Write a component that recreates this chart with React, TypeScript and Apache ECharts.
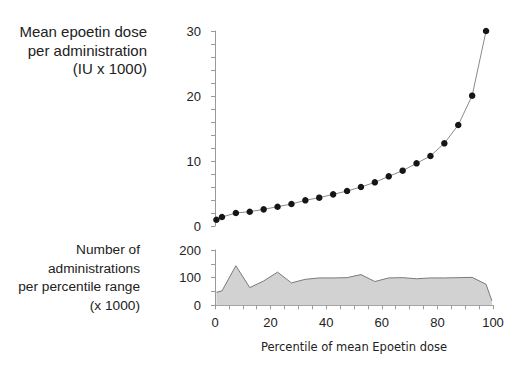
import React, { useEffect, useRef } from "react";
import * as echarts from "echarts";

const dosePercentiles = [0.5, 2.5, 7.5, 12.5, 17.5, 22.5, 27.5, 32.5, 37.5, 42.5, 47.5, 52.5, 57.5, 62.5, 67.5, 72.5, 77.5, 82.5, 87.5, 92.5, 97.5];
const meanDose = [0.97, 1.38, 2.0, 2.2, 2.56, 2.97, 3.38, 3.95, 4.36, 4.87, 5.38, 6.0, 6.72, 7.64, 8.51, 9.64, 10.77, 12.72, 15.54, 20.05, 30.0];

const adminPercentiles = [0.5, 2.5, 7.5, 12.5, 17.5, 22.5, 27.5, 32.5, 37.5, 42.5, 47.5, 52.5, 57.5, 62.5, 67.5, 72.5, 77.5, 82.5, 87.5, 92.5, 97.5, 99.6];
const administrations = [47, 52, 143, 64, 88, 120, 81, 94, 99, 99, 100, 111, 86, 99, 100, 96, 99, 99, 100, 101, 76, 16];

const xTicks = [0, 20, 40, 60, 80, 100];
const doseTicks = [0, 10, 20, 30];
const adminTicks = [0, 100, 200];

const topTitle = ["Mean epoetin dose", "per administration", "(IU x 1000)"];
const bottomTitle = ["Number of", "administrations", "per percentile range", "(x 1000)"];
const xTitle = "Percentile of mean Epoetin dose";

export default function App() {
  const ref = useRef<HTMLDivElement>(null);
  useEffect(() => {
    if (!ref.current) return;
    const chart = echarts.init(ref.current, null, { renderer: "svg" });
    const axisColor = "#9a9a9a";
    const labelStyle = { color: "#222", fontFamily: "Liberation Sans", fontSize: 13 };
    const option: any = {
      animation: false,
      backgroundColor: "#fff",
      grid: [
        { left: 215, width: 278, top: 31, height: 195 },
        { left: 215, width: 278, top: 250, height: 55.3 },
      ],
      xAxis: [
        { gridIndex: 0, type: "value", min: xTicks[0], max: xTicks[xTicks.length - 1], show: false },
        {
          gridIndex: 1,
          type: "value",
          min: xTicks[0],
          max: xTicks[xTicks.length - 1],
          interval: 20,
          axisLine: { show: true, lineStyle: { color: axisColor, width: 1 } },
          axisTick: { show: true, length: 4, lineStyle: { color: axisColor } },
          minorTick: { show: true, splitNumber: 4, length: 4, lineStyle: { color: axisColor } },
          splitLine: { show: false },
          axisLabel: { ...labelStyle, margin: 11 },
          name: xTitle,
          nameLocation: "middle",
          nameGap: 36,
          nameTextStyle: { color: "#222", fontFamily: "DejaVu Sans", fontSize: 11.5 },
        },
      ],
      yAxis: [
        {
          gridIndex: 0,
          type: "value",
          min: doseTicks[0],
          max: doseTicks[doseTicks.length - 1],
          interval: 10,
          offset: 4,
          axisLine: { show: true, lineStyle: { color: axisColor, width: 1 } },
          axisTick: { show: true, length: 4, lineStyle: { color: axisColor } },
          minorTick: { show: true, splitNumber: 5, length: 4, lineStyle: { color: axisColor } },
          splitLine: { show: false },
          axisLabel: { ...labelStyle, margin: 10 },
        },
        {
          gridIndex: 1,
          type: "value",
          min: adminTicks[0],
          max: adminTicks[adminTicks.length - 1],
          interval: 100,
          offset: 4,
          axisLine: { show: true, lineStyle: { color: axisColor, width: 1 } },
          axisTick: { show: true, length: 4, lineStyle: { color: axisColor } },
          minorTick: { show: true, splitNumber: 2, length: 4, lineStyle: { color: axisColor } },
          splitLine: { show: false },
          axisLabel: { ...labelStyle, margin: 10 },
        },
      ],
      series: [
        {
          type: "line",
          xAxisIndex: 0,
          yAxisIndex: 0,
          data: dosePercentiles.map((p, i) => [p, meanDose[i]]),
          symbol: "circle",
          symbolSize: 6.5,
          itemStyle: { color: "#151515" },
          lineStyle: { color: "#8a8a8a", width: 1 },
          z: 3,
        },
        {
          type: "line",
          xAxisIndex: 1,
          yAxisIndex: 1,
          data: adminPercentiles.map((p, i) => [p, administrations[i]]),
          symbol: "none",
          lineStyle: { color: "#7a7a7a", width: 1 },
          areaStyle: { color: "#d2d2d2", opacity: 1 },
        },
      ],
      graphic: [
        {
          type: "text",
          x: 147,
          y: 22.5,
          style: {
            text: topTitle.join("\n"),
            fill: "#222",
            fontFamily: "Liberation Sans",
            fontSize: 15,
            lineHeight: 18.5,
            align: "right",
            verticalAlign: "top",
          },
        },
        {
          type: "text",
          x: 140,
          y: 240.7,
          style: {
            text: bottomTitle.join("\n"),
            fill: "#222",
            fontFamily: "Liberation Sans",
            fontSize: 13.7,
            lineHeight: 18.5,
            align: "right",
            verticalAlign: "top",
          },
        },
      ],
    };
    chart.setOption(option);
    return () => chart.dispose();
  }, []);
  return (
    <div
      ref={ref}
      style={{ position: "fixed", left: 0, top: 0, width: 524, height: 368 }}
    />
  );
}
